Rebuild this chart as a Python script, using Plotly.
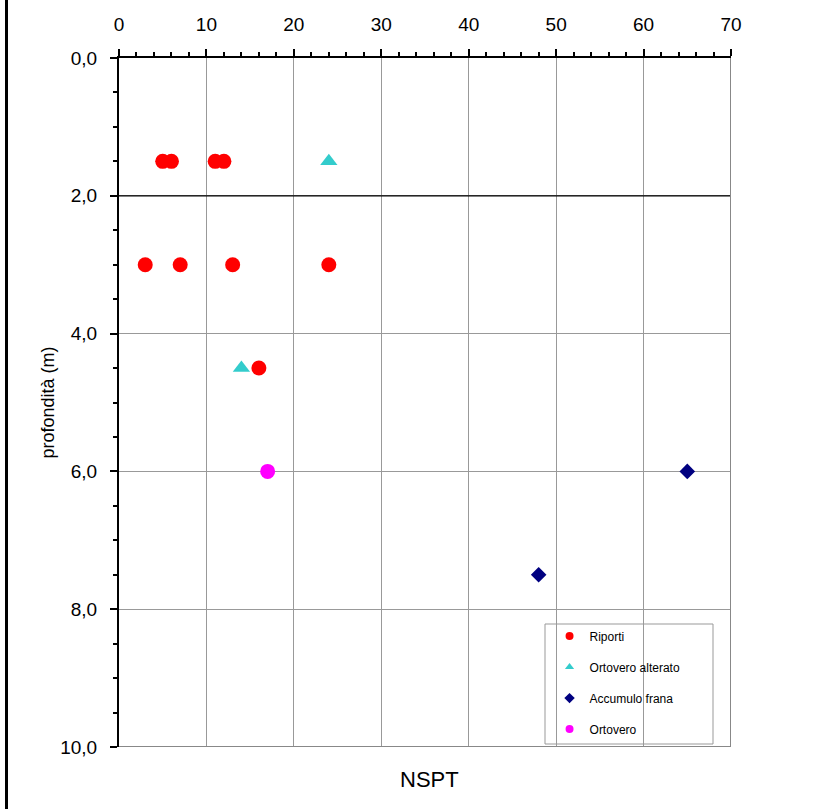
import plotly.graph_objects as go

riporti_x = [5, 6, 11, 12, 3, 7, 13, 24, 16]
riporti_y = [1.5, 1.5, 1.5, 1.5, 3.0, 3.0, 3.0, 3.0, 4.5]
alterato_x = [24, 14]
alterato_y = [1.5, 4.5]
frana_x = [48, 65]
frana_y = [7.5, 6.0]
ortovero_x = [17]
ortovero_y = [6.0]

series = [
    ("Riporti", riporti_x, riporti_y, "circle", "#FF0000", 15),
    ("Ortovero alterato", alterato_x, alterato_y, "triangle-up", "#33CCCC", 15),
    ("Accumulo frana", frana_x, frana_y, "diamond", "#000080", 12),
    ("Ortovero", ortovero_x, ortovero_y, "circle", "#FF00FF", 15),
]

fig = go.Figure()
for name, xs, ys, sym, col, sz in series:
    fig.add_trace(go.Scatter(x=xs, y=ys, mode="markers", name=name, showlegend=False,
                             marker=dict(symbol=sym, color=col, size=sz, line=dict(width=0))))
for name, xs, ys, sym, col, sz in series:
    fig.add_trace(go.Scatter(x=[None], y=[None], mode="markers", name=name, legendgroup=name,
                             marker=dict(symbol=sym, color=col, size=8, line=dict(width=0))))

PW, PH = 612, 689
fig.update_layout(
    width=823, height=809,
    margin=dict(l=119, r=92, t=58, b=62),
    paper_bgcolor="white", plot_bgcolor="white",
    separators=",.",
    font=dict(family="Arial, Liberation Sans, sans-serif", color="black"),
    showlegend=True,
    legend=dict(x=0.7035, y=0.182, xanchor="left", yanchor="top",
                font=dict(size=12), bgcolor="rgba(0,0,0,0)",
                tracegroupgap=12, itemwidth=30),
    xaxis=dict(side="top", range=[0, 70], dtick=10, tick0=0,
               showgrid=True, gridcolor="#999999", gridwidth=1,
               showline=True, linecolor="black", linewidth=2,
               ticks="outside", ticklen=7, tickwidth=2, tickcolor="black",
               tickfont=dict(size=19), ticklabelstandoff=10, zeroline=False,
               minor=dict(dtick=2, ticks="outside", ticklen=4, tickwidth=1.5, tickcolor="black", showgrid=False)),
    yaxis=dict(range=[10, 0], dtick=2, tick0=0, tickformat=".1f",
               showgrid=True, gridcolor="#999999", gridwidth=1,
               showline=True, linecolor="black", linewidth=2,
               ticks="outside", ticklen=7, tickwidth=2, tickcolor="black",
               tickfont=dict(size=19), ticklabelstandoff=9, zeroline=False,
               title=dict(text="profondità (m)", font=dict(size=18), standoff=1),
               minor=dict(dtick=0.5, ticks="outside", ticklen=4, tickwidth=1.5, tickcolor="black", showgrid=False)),
    shapes=[
        dict(type="line", xref="x", yref="y", x0=0, x1=70, y0=2, y1=2,
             line=dict(color="black", width=1.3)),
        dict(type="line", xref="x", yref="y", x0=0, x1=70, y0=10, y1=10,
             line=dict(color="#888888", width=2)),
        dict(type="line", xref="x", yref="y", x0=70, x1=70, y0=0, y1=10,
             line=dict(color="#888888", width=2)),
        dict(type="rect", xref="paper", yref="paper", x0=(545-119)/PW, x1=(713-119)/PW,
             y0=(747-744)/PH, y1=(747-624)/PH, line=dict(color="#999999", width=1),
             fillcolor="white", layer="below"),
        dict(type="line", xref="paper", yref="paper", x0=(6.5-119)/PW, x1=(6.5-119)/PW,
             y0=-62/PH, y1=(PH+58)/PH, line=dict(color="black", width=3)),
    ],
    annotations=[
        dict(text="NSPT", xref="paper", yref="paper", x=(429-119)/PW, y=(747-779)/PH,
             xanchor="center", yanchor="middle", showarrow=False, font=dict(size=22)),
    ],
)

fig.write_html("out.html", config={"displayModeBar": False},
               post_script="document.body.style.margin='0px';")
